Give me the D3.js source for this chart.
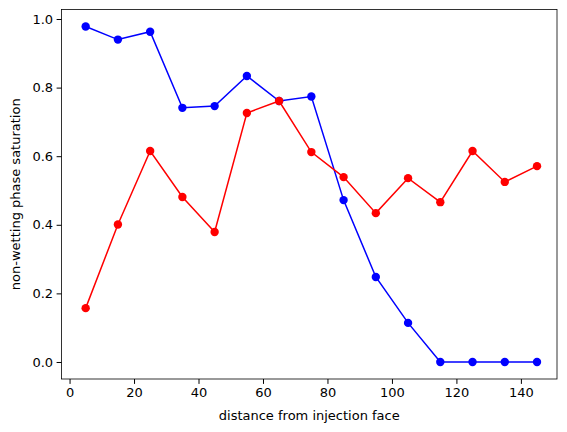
<!DOCTYPE html>
<html><head><meta charset="utf-8">
<script src="https://cdn.jsdelivr.net/npm/d3@7"></script>
<style>body{margin:0;background:#fff}text{font-family:"DejaVu Sans",sans-serif}</style>
</head><body><div id="chart"></div>
<script>
var WIDTH = 567, HEIGHT = 432;
var distance = [5, 15, 25, 35, 45, 55, 65, 75, 85, 95, 105, 115, 125, 135, 145];
var blueSat = [0.978, 0.940, 0.963, 0.741, 0.746, 0.834, 0.761, 0.774, 0.472, 0.248, 0.114, 0, 0, 0, 0];
var redSat = [0.157, 0.401, 0.615, 0.481, 0.379, 0.726, 0.761, 0.612, 0.539, 0.434, 0.536, 0.466, 0.615, 0.525, 0.571];
var xTicks = [0, 20, 40, 60, 80, 100, 120, 140];
var yTicks = [0, 0.2, 0.4, 0.6, 0.8, 1.0];

var m = {left: 61.5, right: 557, top: 9.5, bottom: 379};
var FS = 13;
var svg = d3.select('#chart').append('svg').attr('width', WIDTH).attr('height', HEIGHT);
var x = d3.scaleLinear().domain([-2.5, 151.2]).range([m.left, m.right]);
var y = d3.scaleLinear().domain([-0.0496, 1.0277]).range([m.bottom, m.top]);

svg.append('g').attr('transform', 'translate(0,' + m.bottom + ')')
    .call(d3.axisBottom(x).tickValues(xTicks).tickSize(4.9).tickPadding(3.5))
    .call(g => g.select('.domain').remove())
    .selectAll('text').attr('font-size', FS).attr('fill', '#000');
svg.append('g').attr('transform', 'translate(' + m.left + ',0)')
    .call(d3.axisLeft(y).tickValues(yTicks).tickFormat(d3.format('.1f')).tickSize(4.9).tickPadding(3.5))
    .call(g => g.select('.domain').remove())
    .selectAll('text').attr('font-size', FS).attr('fill', '#000');

svg.append('rect').attr('x', m.left).attr('y', m.top)
    .attr('width', m.right - m.left).attr('height', m.bottom - m.top)
    .attr('fill', 'none').attr('stroke', '#000').attr('stroke-width', 0.8);

function series(vals, color) {
    var line = d3.line().x((d, i) => x(distance[i])).y(d => y(d));
    svg.append('path').datum(vals).attr('d', line)
        .attr('fill', 'none').attr('stroke', color).attr('stroke-width', 1.5);
    svg.append('g').selectAll('circle').data(vals).enter().append('circle')
        .attr('cx', (d, i) => x(distance[i])).attr('cy', d => y(d)).attr('r', 4.2).attr('fill', color);
}
series(blueSat, 'blue');
series(redSat, 'red');

svg.append('text').attr('x', (m.left + m.right) / 2).attr('y', 420)
    .attr('text-anchor', 'middle').attr('font-size', FS).text('distance from injection face');
svg.append('text').attr('transform', 'translate(20,' + (m.top + m.bottom) / 2 + ') rotate(-90)')
    .attr('text-anchor', 'middle').attr('font-size', FS).text('non-wetting phase saturation');
</script></body></html>
